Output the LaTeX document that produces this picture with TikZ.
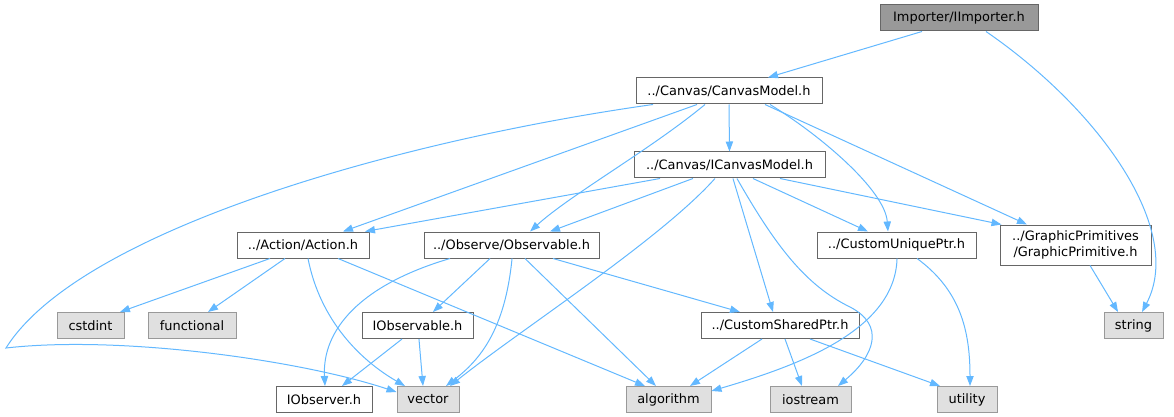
\documentclass[tikz,border=0pt]{standalone}
\usepackage{fontspec}
\setmainfont{DejaVu Sans}
\usetikzlibrary{arrows.meta}
\definecolor{edgec}{HTML}{63B8FF}
\definecolor{bordc}{HTML}{666666}
\definecolor{sysb}{HTML}{999999}
\definecolor{sysf}{HTML}{E0E0E0}
\definecolor{rootf}{HTML}{999999}
\begin{document}
\begin{tikzpicture}[x=0.75pt,y=-0.75pt,
  box/.style={draw=bordc, fill=white, line width=0.75pt, inner sep=0pt,
    minimum height=19.5pt, font=\fontsize{9.7}{11.5}\selectfont, align=center},
  sys/.style={box, draw=sysb, fill=sysf},
  root/.style={box, draw=bordc, fill=rootf},
  dep/.style={draw=edgec, line width=0.75pt, -{Triangle[length=7.5pt,width=5.5pt]}}]
\useasboundingbox (0,0) rectangle (1174,417);

% nodes
\node[root, minimum width=118.5pt] (imp) at (959,18) {Importer/IImporter.h};
\node[box, minimum width=139.5pt] (cm) at (729,91) {../Canvas/CanvasModel.h};
\node[box, minimum width=143.25pt] (icm) at (729.5,165) {../Canvas/ICanvasModel.h};
\node[box, minimum width=99pt] (act) at (303,245) {../Action/Action.h};
\node[box, minimum width=131.25pt] (obs) at (511.5,245) {../Observe/Observable.h};
\node[box, minimum width=119.25pt] (cup) at (896.5,245) {../CustomUniquePtr.h};
\node[box, minimum width=113.25pt, minimum height=30pt] (gp) at (1075.5,245) {../GraphicPrimitives\\/GraphicPrimitive.h};
\node[sys, minimum width=50.25pt] (cstdint) at (90.5,325.5) {cstdint};
\node[sys, minimum width=66pt] (functional) at (192,325.5) {functional};
\node[box, minimum width=83.25pt] (iobsable) at (417.5,325.5) {IObservable.h};
\node[box, minimum width=118.5pt] (csp) at (780,325.5) {../CustomSharedPtr.h};
\node[sys, minimum width=44.25pt] (string) at (1133.5,325.5) {string};
\node[box, minimum width=72pt] (iobserver) at (324,399.5) {IObserver.h};
\node[sys, minimum width=46.5pt] (vector) at (428,399.5) {vector};
\node[sys, minimum width=63.75pt] (algorithm) at (668.5,399.5) {algorithm};
\node[sys, minimum width=60.75pt] (iostream) at (810.5,399.5) {iostream};
\node[sys, minimum width=45pt] (utility) at (967,399.5) {utility};

% edges from IImporter
\draw[dep] ([xshift=-27.75pt]imp.south) -- ([xshift=29.25pt]cm.north);
\draw[dep] ([xshift=20.25pt]imp.south) .. controls (1100,110) and (1185,230) .. ([xshift=6.4pt]string.north);

% edges from CanvasModel
\draw[dep] (cm.south) -- (icm.north);
\draw[dep] ([xshift=-57pt]cm.south) .. controls (400,140) and (80,230) .. (6,348)
  .. controls (120,335) and (300,360) .. ([yshift=5.6pt]vector.west);
\draw[dep] ([xshift=-24pt]cm.south) -- ([xshift=30pt]act.north);
\draw[dep] ([xshift=-18pt]cm.south) .. controls (650,150) and (570,195) .. ([xshift=13.9pt]obs.north);
\draw[dep] ([xshift=27pt]cm.south) -- ([xshift=-36.4pt]gp.north);
\draw[dep] ([xshift=30.75pt]cm.south) .. controls (820,135) and (885,190) .. ([xshift=-6.4pt]cup.north);

% edges from ICanvasModel
\draw[dep] ([xshift=-52.1pt]icm.south) -- ([xshift=46.5pt]act.north);
\draw[dep] ([xshift=-27.4pt]icm.south) -- ([xshift=28.9pt]obs.north);
\draw[dep] ([xshift=-10.9pt]icm.south) .. controls (660,240) and (520,330) .. ([xshift=16.5pt]vector.north);
\draw[dep] ([xshift=2.6pt]icm.south) -- ([xshift=-5.25pt]csp.north);
\draw[dep] ([xshift=5.6pt]icm.south) .. controls (775,245) and (805,285) .. (850,307)
  .. controls (885,325) and (875,355) .. ([xshift=20.6pt]iostream.north);
\draw[dep] ([xshift=17.6pt]icm.south) -- ([xshift=-21.4pt]cup.north);
\draw[dep] ([xshift=37.9pt]icm.south) -- ([xshift=-55.5pt]gp.north);

% edges from Action
\draw[dep] ([xshift=-24.75pt]act.south) -- ([xshift=22.1pt]cstdint.north);
\draw[dep] ([xshift=-13.5pt]act.south) -- ([xshift=12pt]functional.north);
\draw[dep] ([xshift=3.75pt]act.south) .. controls (320,320) and (360,360) .. ([xshift=-17.25pt]vector.north);
\draw[dep] ([xshift=26.25pt]act.south) -- ([xshift=-17.6pt]algorithm.north);

% edges from Observable
\draw[dep] ([xshift=-46.1pt]obs.south) .. controls (360,285) and (322,330) .. ([xshift=0.75pt]iobserver.north);
\draw[dep] ([xshift=-16.1pt]obs.south) -- ([xshift=11.6pt]iobsable.north);
\draw[dep] ([xshift=0.4pt]obs.south) .. controls (505,330) and (480,360) .. ([xshift=13.5pt]vector.north);
\draw[dep] ([xshift=10.1pt]obs.south) -- ([xshift=-9.4pt]algorithm.north);
\draw[dep] ([xshift=31.1pt]obs.south) -- ([xshift=-30pt]csp.north);

% edges from IObservable
\draw[dep] ([xshift=-11.6pt]iobsable.south) -- ([xshift=13.5pt]iobserver.north);
\draw[dep] ([xshift=1.1pt]iobsable.south) -- ([xshift=-3.75pt]vector.north);

% edges from CustomSharedPtr
\draw[dep] ([xshift=-13.5pt]csp.south) -- ([xshift=16.1pt]algorithm.north);
\draw[dep] ([xshift=3.75pt]csp.south) -- ([xshift=-6.4pt]iostream.north);
\draw[dep] ([xshift=22.5pt]csp.south) -- ([xshift=-20.25pt]utility.north);

% edges from CustomUniquePtr
\draw[dep] ([xshift=0.4pt]cup.south) .. controls (895,330) and (800,365) .. ([yshift=6.4pt]algorithm.east);
\draw[dep] ([xshift=15.4pt]cup.south) .. controls (960,290) and (970,330) .. ([xshift=2.25pt]utility.north);

% edge from GraphicPrimitive
\draw[dep] ([xshift=10.9pt]gp.south) -- ([xshift=-11.6pt]string.north);
\end{tikzpicture}
\end{document}
